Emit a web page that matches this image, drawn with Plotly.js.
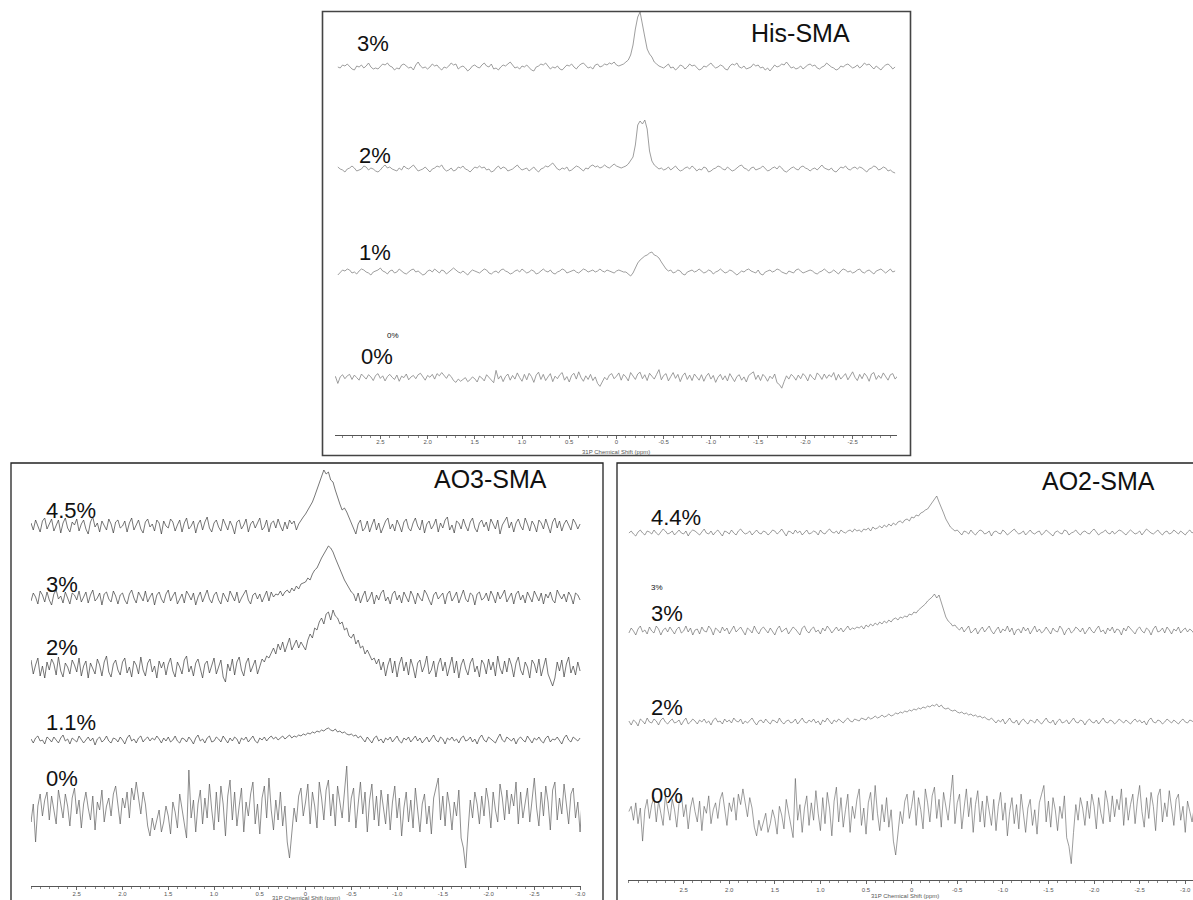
<!DOCTYPE html>
<html>
<head>
<meta charset="utf-8">
<script src="https://cdn.plot.ly/plotly-3.0.1.min.js"></script>
<style>html,body{margin:0;padding:0;background:#fff;}#chart{width:1193px;height:900px;}</style>
</head>
<body>
<div id="chart"></div>
<script>
// ---------------- DATA (31P NMR intensities, arbitrary units) ----------------
// His-SMA panel: one point every -0.025 ppm starting at 2.95 ppm
const his3 = [
 0,-1,2,1,3,0,-2,-3,1,0,2,-1,1,4,0,-2,-1,-2,1,3,
 2,4,1,0,-3,-1,-2,2,3,1,-1,0,-3,2,5,1,-1,0,-2,0,
 3,1,2,-1,-3,0,-1,1,4,2,3,-2,0,1,-1,-4,-2,1,2,0,
 -1,2,4,1,0,3,-2,-1,-3,0,2,1,3,5,2,-1,0,-2,1,0,
 2,-1,-3,-4,0,1,3,2,4,1,-2,0,-1,1,-2,-3,0,2,1,3,
 0,-2,1,3,4,1,-1,0,-2,2,3,0,1,3,2,4,3,5,2,1,
 2,3,5,7,12,22,38,50,55,44,30,18,13,10,5,3,1,0,-1,1,
 3,-1,0,-3,-1,2,1,-2,0,3,1,2,-1,-3,-2,1,0,2,4,1,
 -1,0,2,1,-2,-3,1,3,2,4,0,-1,1,-2,-1,0,3,1,2,-1,
 0,-3,-1,-4,-1,2,0,1,3,2,5,2,-1,0,-2,-1,1,-2,0,2,
 3,1,2,-1,-2,0,1,4,2,0,-1,-3,-2,1,0,2,3,1,-1,0,
 2,-1,1,4,2,3,0,-2,1,-1,-3,0,2,3,1,-2,0];
const his2 = [
 2,0,-1,-3,0,1,3,1,-2,-1,0,3,2,-1,1,0,-2,-3,-1,2,
 4,1,2,0,-1,-2,1,-1,3,1,0,2,4,1,-2,-1,0,2,-1,-3,
 0,1,3,2,4,0,-2,-1,1,-2,-1,2,1,3,0,-1,-3,0,2,1,
 3,1,2,-1,0,-3,-2,1,3,0,2,1,-2,-1,0,2,4,1,-1,0,
 1,-2,0,2,-1,-3,0,1,3,2,4,6,3,0,-1,1,0,2,-2,-1,
 1,3,2,0,-2,1,0,3,4,2,3,1,2,4,2,1,3,5,3,2,
 1,2,3,5,8,12,24,44,48,45,49,40,18,8,4,2,0,1,-1,0,
 2,-1,1,3,0,-2,-1,1,2,0,3,1,-2,0,-1,2,1,-3,-2,0,
 1,3,2,0,-1,2,0,-2,-1,1,3,4,1,0,-2,1,2,-1,0,1,
 3,0,-2,-1,1,2,0,3,1,-2,-3,-1,1,2,0,-1,2,3,1,0,
 -2,0,1,-1,2,4,1,0,-1,1,-2,-3,0,2,1,3,0,-1,1,2,
 0,2,1,-1,-3,0,1,3,2,-1,0,2,1,-2,-1,-3,-4];
const his1 = [
 -3,0,2,1,3,2,-1,0,-2,1,3,2,0,-1,-3,0,1,2,4,1,
 0,-2,1,2,-1,0,3,1,-1,-2,0,2,3,0,1,-1,-3,-2,1,2,
 0,3,1,-1,2,1,-2,0,2,4,2,0,-1,1,-1,-3,0,2,1,0,
 -1,1,3,2,-1,-2,0,1,-1,2,3,1,0,-2,-1,1,2,0,3,1,
 -1,0,2,1,-2,-1,1,3,1,0,2,-1,-2,0,1,3,2,-1,0,1,
 2,0,-1,1,3,2,0,1,2,0,1,3,1,0,2,1,0,-1,1,2,
 1,0,0,-2,-4,-1,5,9,12,14,16,17,19,20,17,16,14,10,6,3,
 1,2,-1,0,2,1,-2,-3,0,1,2,0,1,3,1,-1,0,2,1,-2,
 0,1,3,1,-1,0,2,1,-1,-3,-1,1,0,2,3,1,0,-1,2,-2,
 -3,0,1,2,0,1,3,2,0,-1,-2,1,0,-1,2,3,1,-1,0,1,
 2,1,-1,-2,0,1,3,1,-1,0,2,0,-2,1,3,2,0,1,-1,0,
 2,3,0,-1,1,2,0,-2,1,2,3,1,-1,1,3,0,1];
// 0% control spectrum (the same acquisition appears in all three panels):
// one point every -0.025 ppm starting at 3.10 ppm
const control0 = [
 4,10,-6,14,-10,8,-30,6,18,-4,12,20,-8,16,2,-12,22,10,-6,18,
 6,-14,14,24,-2,12,-16,8,20,4,-8,16,-18,10,2,22,-10,6,14,-4,
 18,26,8,-12,14,4,20,-6,24,12,30,16,-2,20,8,-14,-24,-6,-18,-8,
 2,-20,-10,6,-4,-22,10,0,-16,18,4,-10,-26,42,-6,12,-20,8,22,-12,
 14,-6,28,2,-18,20,-10,26,8,-24,16,32,-8,20,-14,6,24,-20,10,-4,
 18,30,-12,8,-22,14,26,-6,34,2,-18,12,-8,20,-14,6,-30,-46,-20,4,
 -10,16,24,-4,10,28,-12,20,6,-16,30,14,-8,22,32,-4,18,-14,26,10,
 -6,20,46,-10,14,24,-16,8,30,-2,20,-20,12,28,-8,16,-14,22,6,-12,
 18,-18,10,26,-6,14,-24,4,20,-10,12,-16,24,2,-20,8,18,-12,6,-22,
 14,24,34,-8,16,-14,20,6,-18,10,-4,22,-26,-36,-56,-20,12,-6,20,8,
 -12,16,-4,24,10,-16,20,2,-10,28,14,-8,22,-2,18,6,30,-12,20,-6,
 12,24,-10,16,34,4,-14,20,-4,26,10,-18,22,30,-8,14,-2,28,8,-12,
 18,24,-6,10,-20,16,4,-8,10];
// AO3-SMA panel: one point every -0.025 ppm starting at 3.00 ppm
const ao3_45 = [
 3,-4,6,-1,-6,5,8,-3,2,7,-5,0,6,-7,3,8,-2,-6,4,1,
 7,-5,2,6,-3,-8,4,9,-1,3,-6,5,0,-4,7,2,-7,4,6,-2,
 0,5,-6,3,8,-4,1,6,-3,-7,4,7,-1,2,-5,6,3,-8,5,0,
 -2,7,4,-5,1,6,-6,3,8,-3,0,5,-7,2,6,-4,4,9,-2,-6,
 3,6,-1,-5,7,2,-4,5,0,-8,4,6,-3,1,7,-6,2,5,-2,3,
 8,-4,-1,6,-6,3,5,-2,7,0,-5,4,-3,6,2,5,-4,2,6,9,
 12,16,20,24,30,36,42,50,56,52,54,46,44,36,28,22,16,18,14,8,
 4,-3,-8,2,6,-5,-2,5,-6,1,7,-4,3,-7,0,5,8,-3,2,-5,
 6,1,-6,4,7,-2,-5,3,8,0,-4,6,-7,2,5,-3,1,7,-6,3,
 -2,6,9,-4,1,-7,5,3,-3,7,0,-5,4,8,-2,-6,3,6,-1,4,
 -5,7,2,-3,6,-8,1,5,9,-2,4,-6,3,7,0,-4,8,2,-5,5,
 1,-6,6,3,-3,7,-1,-7,4,8,-2,5,-5,2,6,0,-4,7,3,-3,
 2];
const ao3_3 = [
 -3,5,1,-6,7,3,-4,6,-2,-7,4,8,-1,2,-5,6,0,-6,5,3,
 -2,7,-4,1,6,-5,3,8,-3,0,5,-7,4,6,-1,-4,7,2,-6,3,
 5,-2,-6,4,8,0,-5,6,2,-3,7,-4,1,5,-7,3,6,-1,-5,4,
 8,-3,2,6,-6,0,4,-5,7,3,-2,5,-7,1,6,-4,2,8,-1,-5,
 3,6,-2,-6,5,1,-4,7,2,-3,6,-5,0,4,8,-2,-6,3,5,-1,
 4,-4,2,7,-3,6,1,4,3,7,2,6,8,5,10,7,12,9,14,15,
 16,20,18,24,28,30,36,40,44,48,52,50,46,40,34,28,22,18,14,10,
 6,4,-3,5,-5,2,7,-4,0,6,-6,3,-2,5,8,-3,1,-6,4,7,
 -2,3,-5,6,1,-4,7,2,-6,5,0,-3,8,4,-2,-7,3,6,-1,2,
 5,-6,4,7,-3,1,6,-5,2,8,-1,-4,5,3,-7,4,6,-2,0,5,
 -3,7,2,-5,6,-1,3,8,-4,0,5,-6,4,7,-2,3,-5,6,1,-4,
 7,2,-3,5,-6,4,0,6,-2,-5,8,3,-1,4,-4,6,2,-6,5,3,
 -2];
const ao3_2 = [
 8,-6,3,10,-8,2,-10,6,-2,9,4,-7,11,-3,-9,5,1,-6,8,3,
 -4,10,-8,2,7,-10,5,0,-6,9,3,-8,6,12,-4,-9,4,8,-2,-7,
 6,10,-5,1,-9,7,3,-6,11,-2,-8,5,9,-4,2,-10,7,0,6,-7,
 4,10,-3,-9,6,1,-6,8,12,-4,2,-8,5,9,-2,-10,4,7,-5,3,
 10,-6,0,8,-9,-14,4,-3,9,-7,6,11,-2,-8,5,10,-4,2,8,-6,
 3,9,6,12,10,16,20,14,24,18,26,16,22,30,18,24,28,20,26,22,
 18,28,34,30,40,38,46,50,44,54,56,48,58,52,50,44,46,38,40,32,
 30,34,24,28,20,22,14,18,12,8,10,4,9,-2,6,-8,3,10,-5,7,
 -9,4,11,-3,6,-7,9,1,-10,5,8,-4,2,12,-6,-2,7,-9,4,10,
 -3,6,-8,2,11,-5,7,-10,3,9,-1,-7,5,10,-4,2,-9,8,4,-6,
 9,-2,6,-8,12,0,-6,7,-4,10,3,-9,5,11,-2,-7,6,1,-10,8,
 4,-5,9,-8,2,10,-6,-12,-18,-10,6,-3,8,-9,4,11,-5,2,-7,6,
 -3];
const ao3_11 = [
 1,-3,2,4,-1,0,-4,3,1,-2,3,0,-3,2,5,-1,1,-4,2,0,
 -2,4,1,-3,0,3,-1,2,-5,1,3,-2,0,4,-1,-3,2,1,-2,3,
 0,-4,2,5,-1,1,-3,2,4,-2,1,3,-1,2,0,4,1,-3,2,-1,
 3,-2,0,4,-1,-3,2,1,-2,3,0,-4,2,5,-1,1,-3,2,4,-2,
 -1,3,1,-2,4,0,-3,2,-1,3,1,-4,2,0,3,-2,1,4,-1,-3,
 2,0,3,-1,2,4,1,3,0,2,4,1,3,5,2,4,3,5,4,6,
 5,7,6,8,7,9,8,10,9,11,12,10,9,11,8,9,7,8,6,5,
 6,4,5,2,4,1,-2,3,0,-3,2,4,-1,1,-3,2,0,3,-2,1,
 4,-1,-3,2,0,3,-2,1,4,-1,2,-3,0,3,-2,1,5,0,-2,3,
 1,-4,2,0,3,-1,1,-3,2,4,-1,0,3,-2,1,-4,2,5,0,-2,
 3,1,-1,-3,2,6,0,-2,3,1,-1,2,-4,1,3,0,-2,4,1,-3,
 2,0,3,-1,-3,2,4,-2,1,0,3,-1,-4,2,5,0,-2,3,1,-1,
 2];
// AO2-SMA panel: one point every -0.025 ppm starting at 3.10 ppm
const ao2_44 = [
 0,2,-1,-3,1,3,0,-2,2,1,-1,3,0,-2,1,4,2,-1,0,2,
 -2,1,3,0,-1,2,-3,1,3,2,0,-2,1,4,0,-1,2,-2,1,3,
 0,-3,2,1,-1,3,0,-2,2,4,1,-1,0,2,-2,1,3,0,-1,2,
 1,-2,0,3,2,-1,1,4,0,-3,2,1,-1,3,0,2,-2,1,3,-1,
 0,2,1,-2,3,0,-1,2,4,1,0,2,-1,3,1,0,2,3,1,4,
 2,3,1,4,3,5,2,6,4,5,7,5,8,6,9,7,10,8,11,12,
 10,13,14,12,16,15,18,17,20,21,23,24,27,30,33,37,31,26,20,14,
 10,6,4,2,3,0,-2,2,1,-1,3,0,-2,1,3,2,-1,0,2,-3,
 1,2,0,-1,3,1,-2,0,2,4,1,-1,0,2,-2,1,3,0,-1,1,
 2,-2,0,3,1,-1,-3,1,2,0,-1,3,2,-2,0,1,3,0,-2,1,
 2,0,-1,2,4,1,-2,0,1,3,0,-1,2,-1,1,3,2,0,-2,1,
 3,1,-1,0,2,-2,1,4,2,0,-1,1,3,0,-2,1,2,-1,0,3,
 1,-1,2,0,-2,1,3,0,2];
const ao2_3 = [
 -2,3,0,-4,2,5,-1,1,-3,4,0,-2,5,2,-4,1,3,-1,4,0,
 -3,2,4,-2,0,5,-1,3,-4,1,2,-3,4,0,-1,5,2,-4,3,1,
 -2,4,0,3,-3,1,5,-1,2,4,0,-4,3,1,-2,5,0,-3,2,4,
 1,-2,3,0,-4,2,5,-1,1,3,-3,0,4,2,-1,-4,3,5,0,-2,
 2,4,-1,1,-3,3,0,5,2,-2,1,4,0,3,-1,2,5,1,3,2,
 4,3,5,2,6,4,7,5,8,6,9,7,10,8,11,9,12,13,11,14,
 13,15,14,17,16,19,18,21,23,25,27,30,32,34,37,33,36,28,20,14,
 10,8,5,6,3,1,4,-1,2,5,-2,0,3,-3,1,4,-1,2,5,0,
 -3,1,4,-2,2,0,5,-1,3,-4,1,2,-2,4,0,3,-3,1,5,-1,
 2,-2,0,4,1,-3,3,0,-1,5,2,-4,1,3,-2,0,4,2,-1,3,
 -3,1,4,0,-2,2,5,-1,1,-3,3,0,4,-2,2,1,-4,3,0,5,
 2,-1,-3,2,4,0,-2,3,1,-4,2,5,-1,0,3,-2,4,1,-3,2,
 0,4,-2,1,3,-1,2,0,-3];
const ao2_2 = [
 1,-3,2,0,-4,3,1,-2,4,0,-1,3,1,-3,2,4,0,-2,1,3,
 -1,0,2,-3,1,4,-2,0,3,1,-2,2,0,3,-1,1,-3,2,4,0,
 1,-2,3,0,2,-1,4,1,0,3,-2,1,-1,2,4,0,-3,1,2,-1,
 3,0,-2,2,1,-1,4,0,-2,1,2,-1,0,3,-2,1,4,0,-1,2,
 0,3,-1,1,-3,2,0,4,1,-2,2,0,3,1,-1,2,4,1,0,3,
 2,1,4,3,2,5,3,4,6,4,5,7,5,6,8,6,7,9,8,10,
 9,11,10,12,11,13,12,14,13,15,14,16,15,17,16,18,15,17,14,13,
 14,12,11,12,10,9,10,8,9,7,8,6,7,5,6,4,5,3,2,4,
 1,-1,2,0,3,-2,1,4,0,-1,2,-3,1,3,0,-2,2,1,-1,3,
 0,-2,1,4,0,-1,2,-3,1,3,-1,0,2,-2,1,4,0,-1,2,1,
 -3,1,3,0,-1,2,-2,1,4,0,-1,2,1,-2,0,3,1,-1,2,0,
 -2,1,3,0,2,-1,1,-3,2,4,0,-1,2,1,-2,0,3,1,-1,2,
 0,-2,1,3,0,-1,2,1,-1];

// labels
const panelTitles = ["His-SMA", "AO3-SMA", "AO2-SMA"];
const hisLabels = ["3%", "2%", "1%", "0%"];
const ao3Labels = ["4.5%", "3%", "2%", "1.1%", "0%"];
const ao2Labels = ["4.4%", "3%", "2%", "0%"];
const tickVals = [2.5, 2.0, 1.5, 1.0, 0.5, 0, -0.5, -1.0, -1.5, -2.0, -2.5, -3.0];
const tickText = ["2.5", "2.0", "1.5", "1.0", "0.5", "0", "-0.5", "-1.0", "-1.5", "-2.0", "-2.5", "-3.0"];
const axisTitle = "31P Chemical Shift (ppm)";

// ---------------- LAYOUT HELPERS ----------------
const W = 1193, H = 900;
const PX = x => x / W;
const PY = y => 1 - y / H;
const FONT = "Liberation Sans, Arial, sans-serif";
const STEP = -0.025;

// dom: axis extent in px, axisY: axis line px, title: [x, y] px of the axis title
const panels = [
  {ax: 'x',  dom: [335, 897],  range: [2.98, -2.97], axisY: 435, nt: 11, stand: -2, title: [616, 452]},
  {ax: 'x2', dom: [31, 581],   range: [3.0, -3.01],  axisY: 886, nt: 12, stand: -1, title: [306, 898]},
  {ax: 'x3', dom: [628, 1193], range: [3.11, -3.085], axisY: 880, nt: 12, stand: 1, title: [905, 896]}
];

// trace specs: data, panel, start ppm, baseline pixel, data-units per pixel, colour, width
const specs = [
  {y: his3, p: 0, x0: 2.95, base: 67,  s: 1,    c: '#858585', w: 0.8},
  {y: his2, p: 0, x0: 2.95, base: 169, s: 1,    c: '#858585', w: 0.8},
  {y: his1, p: 0, x0: 2.95, base: 272, s: 1,    c: '#858585', w: 0.8},
  {y: control0, p: 0, x0: 3.10, base: 378, s: 5.5, c: '#858585', w: 0.8},
  {y: ao3_45, p: 1, x0: 3.0, base: 526, s: 1,   c: '#3c3c3c', w: 0.7},
  {y: ao3_3,  p: 1, x0: 3.0, base: 598, s: 1,   c: '#3c3c3c', w: 0.7},
  {y: ao3_2,  p: 1, x0: 3.0, base: 668, s: 1,   c: '#3c3c3c', w: 0.7},
  {y: ao3_11, p: 1, x0: 3.0, base: 740, s: 1,   c: '#3c3c3c', w: 0.7},
  {y: control0, p: 1, x0: 3.10, base: 812, s: 1, c: '#5e5e5e', w: 0.7},
  {y: ao2_44, p: 2, x0: 3.10, base: 533, s: 1,  c: '#5a5a5a', w: 0.6},
  {y: ao2_3,  p: 2, x0: 3.10, base: 631, s: 1,  c: '#5a5a5a', w: 0.6},
  {y: ao2_2,  p: 2, x0: 3.10, base: 722, s: 1,  c: '#5a5a5a', w: 0.6},
  {y: control0, p: 2, x0: 3.10, base: 815, s: 1.15, c: '#5a5a5a', w: 0.6}
];

const layout = {
  width: W, height: H,
  margin: {l: 0, r: 0, t: 0, b: 0, pad: 0},
  paper_bgcolor: '#ffffff', plot_bgcolor: 'rgba(0,0,0,0)',
  showlegend: false,
  font: {family: FONT, color: '#111'},
  shapes: [], annotations: []
};

function label(text, x, y, size, color) {
  layout.annotations.push({text: text, xref: 'paper', yref: 'paper', x: PX(x), y: PY(y),
    xanchor: 'center', yanchor: 'middle', showarrow: false,
    font: {family: FONT, size: size, color: color || '#111'}});
}

panels.forEach((pn, i) => {
  const key = i === 0 ? 'xaxis' : 'xaxis' + (i + 1);
  layout[key] = {
    domain: [PX(pn.dom[0]), PX(pn.dom[1])],
    range: pn.range,
    anchor: 'free', position: PY(pn.axisY),
    showline: true, linecolor: '#555', linewidth: 1,
    showgrid: false, zeroline: false,
    tickmode: 'array', tickvals: tickVals.slice(0, pn.nt), ticktext: tickText.slice(0, pn.nt),
    ticks: 'outside', ticklen: 3, tickwidth: 1, tickcolor: '#666',
    ticklabelstandoff: pn.stand,
    tickfont: {size: 6, color: '#555', family: FONT},
    minor: {tickmode: 'linear', tick0: 0, dtick: 0.1, ticks: 'outside', ticklen: 2, tickcolor: '#888', tickwidth: 1},
    automargin: false, fixedrange: true
  };
  label(axisTitle, pn.title[0], pn.title[1], 6, '#555');
});

const traces = specs.map((sp, k) => {
  const pn = panels[sp.p];
  const key = k === 0 ? 'yaxis' : 'yaxis' + (k + 1);
  const top = Math.max(0, sp.base - 85), bot = Math.min(H, sp.base + 85);
  layout[key] = {
    domain: [PY(bot), PY(top)],
    range: [-(bot - sp.base) * sp.s, (sp.base - top) * sp.s],
    anchor: pn.ax, visible: false, showgrid: false, zeroline: false, fixedrange: true
  };
  return {
    type: 'scatter', mode: 'lines',
    y: sp.y, x0: sp.x0, dx: STEP,
    xaxis: pn.ax, yaxis: k === 0 ? 'y' : 'y' + (k + 1),
    line: {color: sp.c, width: sp.w},
    hoverinfo: 'skip', showlegend: false
  };
});

// panel frames
function frame(x0, y0, x1, y1, col, w) {
  layout.shapes.push({type: 'rect', xref: 'paper', yref: 'paper', layer: 'above',
    x0: PX(x0), x1: PX(x1), y0: PY(y1), y1: PY(y0), line: {color: col, width: w}, fillcolor: 'rgba(0,0,0,0)'});
}
frame(322.5, 11.5, 910.5, 455.5, '#444', 1.6);
frame(11, 463, 603, 906, '#222', 1.3);
frame(617, 463, 1202, 906, '#222', 1.3);

label(panelTitles[0], 800, 33, 25);
label(panelTitles[1], 490, 479, 25);
label(panelTitles[2], 1098, 481, 25);

[[373, 43], [375, 155], [375, 252], [377, 356]].forEach((p, i) => label(hisLabels[i], p[0], p[1], 22));
label(hisLabels[3], 393, 335, 8);
[[71, 510], [62, 584], [62, 647], [71, 722], [62, 778]].forEach((p, i) => label(ao3Labels[i], p[0], p[1], 22));
[[676, 517], [667, 613], [667, 707], [667, 795]].forEach((p, i) => label(ao2Labels[i], p[0], p[1], 22));
label(ao2Labels[1], 657, 587, 8);

Plotly.newPlot('chart', traces, layout, {staticPlot: true, displayModeBar: false});
</script>
</body>
</html>
